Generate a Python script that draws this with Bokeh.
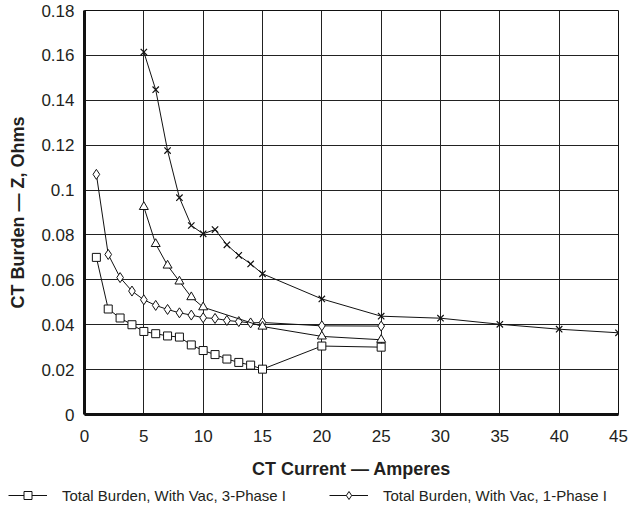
from bokeh.plotting import figure
from bokeh.layouts import column, row
from bokeh.models import Range1d, Legend, LegendItem, FixedTicker
from bokeh.embed import file_html
from bokeh.resources import INLINE

# ---- data ----
x_3ph = [1, 2, 3, 4, 5, 6, 7, 8, 9, 10, 11, 12, 13, 14, 15, 20, 25]
y_3ph = [0.070, 0.047, 0.043, 0.040, 0.037, 0.036, 0.035, 0.0345, 0.031, 0.0285,
         0.0267, 0.0247, 0.0232, 0.022, 0.0202, 0.0305, 0.030]

x_1ph = [1, 2, 3, 4, 5, 6, 7, 8, 9, 10, 11, 12, 13, 14, 15, 20, 25]
y_1ph = [0.107, 0.0713, 0.061, 0.055, 0.0511, 0.0486, 0.0468, 0.0453, 0.0443, 0.0431,
         0.0428, 0.0419, 0.0414, 0.0408, 0.041, 0.0395, 0.0394]

x_tri = [5, 6, 7, 8, 9, 10, 15, 20, 25]
y_tri = [0.0925, 0.076, 0.0664, 0.0593, 0.0523, 0.0478, 0.0392, 0.0348, 0.0333]

x_cross = [5, 6, 7, 8, 9, 10, 11, 12, 13, 14, 15, 20, 25, 30, 35, 40, 45]
y_cross = [0.1615, 0.1447, 0.1176, 0.0966, 0.0842, 0.0805, 0.0824, 0.0756, 0.0709,
           0.0671, 0.0627, 0.0515, 0.0438, 0.0429, 0.0402, 0.038, 0.0364]

x_ticks = [0, 5, 10, 15, 20, 25, 30, 35, 40, 45]
y_ticks = [0, 0.02, 0.04, 0.06, 0.08, 0.1, 0.12, 0.14, 0.16, 0.18]
y_tick_labels = ["0", "0.02", "0.04", "0.06", "0.08", "0.1", "0.12", "0.14", "0.16", "0.18"]

legend_labels = ["Total Burden, With Vac, 3-Phase I", "Total Burden, With Vac, 1-Phase I"]

x_title = "CT Current \u2014 Amperes"
y_title = "CT Burden \u2014 Z, Ohms"

FONT = "Liberation Sans"
TXT = "#231f20"
lc = "#111111"

p = figure(width=628, height=482, output_backend="svg", toolbar_location=None,
           x_range=Range1d(0, 45), y_range=Range1d(0, 0.18),
           min_border_left=84, min_border_right=10, min_border_top=10, min_border_bottom=68)

p.background_fill_color = "white"
p.border_fill_color = "white"
p.outline_line_color = lc
p.outline_line_width = 1

for ax in (p.xaxis[0], p.yaxis[0]):
    ax.axis_line_width = 3
    ax.axis_line_color = lc
    ax.major_tick_in = 0
    ax.major_tick_out = 0
    ax.minor_tick_in = 0
    ax.minor_tick_out = 0
    ax.major_label_text_font = FONT
    ax.major_label_text_font_size = "17px"
    ax.major_label_text_color = TXT
    ax.axis_label_text_font = FONT
    ax.axis_label_text_font_size = "18px"
    ax.axis_label_text_font_style = "bold"
    ax.axis_label_text_color = TXT

p.xaxis[0].ticker = FixedTicker(ticks=x_ticks)
p.yaxis[0].ticker = FixedTicker(ticks=y_ticks)
p.yaxis[0].major_label_overrides = {t: l for t, l in zip(y_ticks, y_tick_labels)}
p.xaxis[0].axis_label = x_title
p.yaxis[0].axis_label = y_title
p.xaxis[0].major_label_standoff = 15
p.xaxis[0].axis_label_standoff = 14
p.yaxis[0].major_label_standoff = 10
p.yaxis[0].axis_label_standoff = 10

p.xgrid.grid_line_color = "#222222"
p.ygrid.grid_line_color = "#222222"
p.xgrid.grid_line_width = 1
p.ygrid.grid_line_width = 1

p.line(x_3ph, y_3ph, line_color=lc, line_width=1)
p.scatter(x_3ph, y_3ph, marker="square", size=8, line_color=lc, fill_color="white", line_width=1)
p.line(x_1ph, y_1ph, line_color=lc, line_width=1)
p.scatter(x_1ph, y_1ph, marker="diamond", size=10, line_color=lc, fill_color="white", line_width=1)
p.line(x_tri, y_tri, line_color=lc, line_width=1)
p.scatter(x_tri, y_tri, marker="triangle", size=9, line_color=lc, fill_color="white", line_width=1)
p.line(x_cross, y_cross, line_color=lc, line_width=1)
p.scatter(x_cross, y_cross, marker="x", size=9, line_color=lc, line_width=1.2)

# ---- legend strip below the chart (legend proxies carry no visible data) ----
pl = figure(width=628, height=26, output_backend="svg", toolbar_location=None,
            x_range=Range1d(0, 1), y_range=Range1d(0, 1),
            x_axis_location=None, y_axis_location=None,
            min_border_left=0, min_border_right=0, min_border_top=0, min_border_bottom=0)
pl.grid.visible = False
pl.outline_line_color = None
pl.background_fill_color = "white"
pl.border_fill_color = "white"

nan = [float("nan")]
ll1 = pl.line(nan, nan, line_color=lc, line_width=1)
ls1 = pl.scatter(nan, nan, marker="square", size=8, line_color=lc, fill_color="white", line_width=1)
ll2 = pl.line(nan, nan, line_color=lc, line_width=1)
ls2 = pl.scatter(nan, nan, marker="diamond", size=10, line_color=lc, fill_color="white", line_width=1)

legend = Legend(items=[LegendItem(label=legend_labels[0], renderers=[ll1, ls1]),
                       LegendItem(label=legend_labels[1], renderers=[ll2, ls2])],
                location=(8, 3), orientation="horizontal",
                padding=0, margin=0, spacing=43, label_standoff=15,
                glyph_width=39, glyph_height=20, label_height=20,
                label_text_font=FONT, label_text_font_size="15px", label_text_color=TXT,
                border_line_color=None, background_fill_alpha=0)
pl.add_layout(legend, "center")

layout = column(p, row(pl, spacing=0), spacing=0)
open("out.html", "w").write(file_html(layout, INLINE))
